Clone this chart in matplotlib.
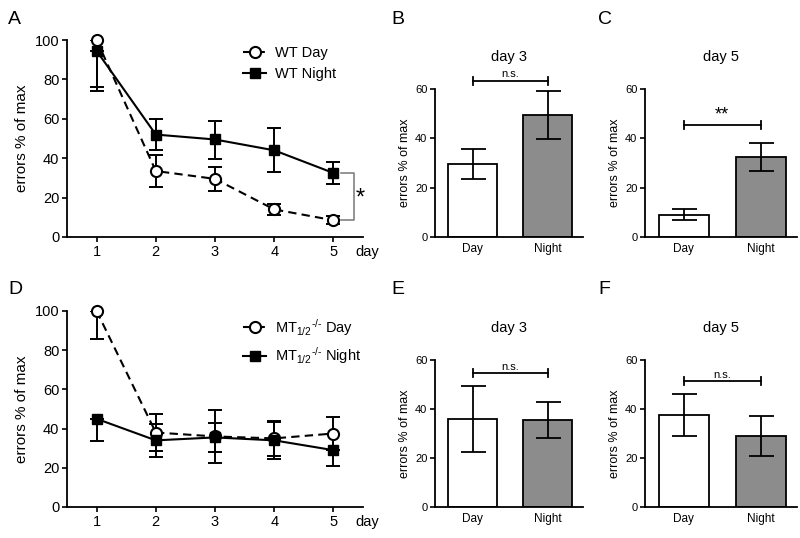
import matplotlib
matplotlib.use('Agg')
import matplotlib.pyplot as plt

plt.rcParams['font.family'] = ['Liberation Sans', 'DejaVu Sans']
plt.rcParams['mathtext.fontset'] = 'custom'
plt.rcParams['mathtext.rm'] = 'Liberation Sans'
plt.rcParams['mathtext.it'] = 'Liberation Sans'
plt.rcParams['axes.linewidth'] = 1.3

# ---- data ----
days = [1, 2, 3, 4, 5]

wt_day = [100, 33.5, 29.5, 14, 8.5]
wt_day_lo = [24, 8, 6, 3, 2]
wt_day_hi = [0, 8, 6, 3, 2]
wt_night = [94.5, 52, 49.5, 44, 32.5]
wt_night_lo = [20.5, 8, 10, 11, 5.7]
wt_night_hi = [0, 8, 9.5, 11.5, 5.7]

mt_day = [100, 38, 36, 35, 37.5]
mt_day_lo = [14.5, 9.5, 13.5, 9, 8.5]
mt_day_hi = [0, 9.5, 13.5, 9, 8.5]
mt_night = [45, 34, 35.5, 34, 29]
mt_night_lo = [11.5, 8.5, 7.5, 9.5, 8.3]
mt_night_hi = [0, 8.5, 7.5, 9.5, 8.3]

groups = ['Day', 'Night']
b_vals, b_err = [29.5, 49.5], [6, 9.75]     # WT day 3
c_vals, c_err = [9, 32.5], [2.3, 5.7]       # WT day 5
e_vals, e_err = [36, 35.5], [13.5, 7.5]     # MT day 3
f_vals, f_err = [37.5, 29], [8.5, 8.3]      # MT day 5

W, H = 800, 538
fig = plt.figure(figsize=(W / 100, H / 100), dpi=100)


def box(x0, y0, x1, y1):
    # pixel box -> figure fraction rect
    return [x0 / W, 1 - y1 / H, (x1 - x0) / W, (y1 - y0) / H]


def style(ax, fs):
    for s in ['top', 'right']:
        ax.spines[s].set_visible(False)
    ax.tick_params(direction='out', length=3.5, width=1.2, labelsize=fs, pad=2)


def line_panel(ax, day, dlo, dhi, night, nlo, nhi, labels):
    style(ax, 10.5)
    ax.errorbar(days, day, yerr=[dlo, dhi], fmt='none', ecolor='black',
                elinewidth=1.4, capsize=5, capthick=1.4)
    ax.errorbar(days, night, yerr=[nlo, nhi], fmt='none', ecolor='black',
                elinewidth=1.4, capsize=5, capthick=1.4)
    ax.plot(days, day, 'k--', marker='o', mfc='white', mec='black', mew=1.5,
            ms=8, lw=1.5, dashes=(4, 2.5), label=labels[0], clip_on=False, zorder=4)
    ax.plot(days, night, 'k-', marker='s', mfc='black', mec='black',
            ms=7, lw=1.5, label=labels[1], clip_on=False, zorder=4)
    ax.set_xlim(0.5, 5.5)
    ax.set_ylim(0, 100)
    ax.set_xticks(days)
    ax.set_yticks([0, 20, 40, 60, 80, 100])
    ax.set_ylabel('errors % of max', fontsize=11, labelpad=4)
    ax.annotate('day', xy=(5.57, 0), xycoords=('data', 'axes fraction'),
                xytext=(0, -5.5), textcoords='offset points',
                ha='center', va='top', fontsize=10.5, annotation_clip=False)
    ax.legend(loc='upper left', bbox_to_anchor=(0.575, 1.0), frameon=False,
              fontsize=10.5, handlelength=1.6, handletextpad=0.6,
              borderaxespad=0, labelspacing=0.5)


def bar_panel(ax, vals, err, title, bracket_y, sig, sig_fs):
    style(ax, 8)
    ax.bar([0, 1], vals, width=0.65, color=['white', '#8c8c8c'],
           edgecolor='black', linewidth=1.3, zorder=2)
    ax.errorbar([0, 1], vals, yerr=err, fmt='none', ecolor='black',
                elinewidth=1.3, capsize=9, capthick=1.3, zorder=3)
    ax.set_xlim(-0.5, 1.47)
    ax.set_ylim(0, 60)
    ax.set_yticks([0, 20, 40, 60])
    ax.set_xticks([0, 1])
    ax.set_xticklabels(groups, fontsize=8.5)
    ax.tick_params(axis='x', length=0, pad=4)
    ax.set_ylabel('errors % of max', fontsize=9, labelpad=3)
    ax.set_title(title, fontsize=10.5, pad=20)
    ax.plot([0, 1], [bracket_y, bracket_y], color='black', lw=1.3, clip_on=False)
    for xb in (0, 1):
        ax.plot([xb, xb], [bracket_y - 1.6, bracket_y + 1.6], color='black',
                lw=1.3, clip_on=False)
    ax.text(0.5, bracket_y + 0.6, sig, ha='center', va='bottom',
            fontsize=sig_fs, clip_on=False)


axA = fig.add_axes(box(67, 40, 363, 237))
line_panel(axA, wt_day, wt_day_lo, wt_day_hi, wt_night, wt_night_lo, wt_night_hi,
           ['WT Day', 'WT Night'])
# significance bracket between day-5 points
bx0, bx1 = 5.12, 5.34
axA.plot([bx0, bx1, bx1, bx0], [wt_night[-1], wt_night[-1], wt_day[-1], wt_day[-1]],
         color='#777777', lw=1.1, clip_on=False)
axA.text(5.45, (wt_night[-1] + wt_day[-1]) / 2 - 1, '*', fontsize=17,
         ha='center', va='center')

axD = fig.add_axes(box(67, 311, 363, 507))
line_panel(axD, mt_day, mt_day_lo, mt_day_hi, mt_night, mt_night_lo, mt_night_hi,
           [r'MT$_{1/2}$$^{\text{-/-}}$ Day', r'MT$_{1/2}$$^{\text{-/-}}$ Night'])

axB = fig.add_axes(box(435, 89, 583, 237))
bar_panel(axB, b_vals, b_err, 'day 3', 63.3, 'n.s.', 8)
axC = fig.add_axes(box(645, 89, 797, 237))
bar_panel(axC, c_vals, c_err, 'day 5', 45.4, '**', 13)
axE = fig.add_axes(box(435, 360, 583, 507))
bar_panel(axE, e_vals, e_err, 'day 3', 54.7, 'n.s.', 8)
axF = fig.add_axes(box(645, 360, 797, 507))
bar_panel(axF, f_vals, f_err, 'day 5', 51.4, 'n.s.', 8)

for letter, (px, py) in zip('ABCDEF', [(8, 11), (391, 11), (598, 11),
                                       (8, 281), (391, 281), (598, 281)]):
    fig.text(px / W, 1 - py / H, letter, fontsize=14, ha='left', va='top')

fig.savefig('out.png', dpi=100)
